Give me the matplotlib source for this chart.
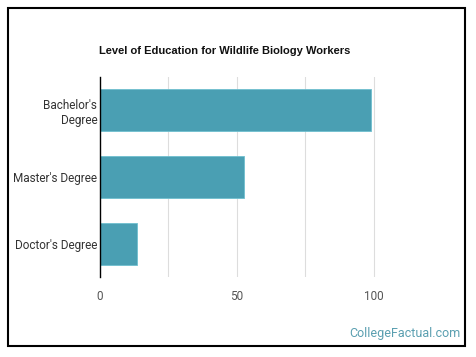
import matplotlib
matplotlib.use("Agg")
import matplotlib.pyplot as plt
from matplotlib.patches import Rectangle

categories = ["Bachelor's\nDegree", "Master's Degree", "Doctor's Degree"]
values = [99.1, 52.5, 13.6]
xticks = [0, 50, 100]
title = "Level of Education for Wildlife Biology Workers"

W, H = 476, 357
fig = plt.figure(figsize=(W / 100, H / 100), dpi=100)
fig.patch.set_facecolor("white")

# outer border
fig.patches.append(Rectangle((8 / W, 1 - 346 / H), (465 - 8) / W, (346 - 8) / H,
                             transform=fig.transFigure, fill=False,
                             edgecolor="black", linewidth=1.5))

ax = fig.add_axes([100 / W, 1 - 277 / H, (442 - 100) / W, (277 - 77) / H])
ypos = list(range(len(categories)))
ax.barh(ypos, values, height=0.63, color="#4a9fb3", edgecolor="#6fbfcf", linewidth=0.6, zorder=3)
ax.set_ylim(2.5, -0.5)
ax.set_xlim(0, 125)
ax.set_yticks(ypos)
ax.set_yticklabels(categories, fontfamily="Roboto", fontsize=8.5, color="#333333")
ax.set_xticks(xticks)
ax.set_xticklabels([str(t) for t in xticks], fontfamily="Roboto", fontsize=8.5, color="#555555")
for g in [25, 50, 75, 100]:
    ax.axvline(g, color="#dddddd", linewidth=0.8, zorder=1)
ax.tick_params(axis="y", length=0, pad=2)
ax.tick_params(axis="x", length=0, pad=9)
for s in ["top", "right", "bottom"]:
    ax.spines[s].set_visible(False)
ax.spines["left"].set_color("black")
ax.spines["left"].set_linewidth(1.0)
ax.spines["left"].set_zorder(4)

fig.text(225 / W, 1 - 51 / H, title, ha="center", va="center",
         fontfamily="Liberation Sans", fontweight="bold", fontsize=8, color="#111111")
fig.text(461 / W, 1 - 334 / H, "CollegeFactual.com", ha="right", va="center",
         fontfamily="Roboto", fontsize=9, color="#5a9fb0")

fig.savefig("out.png", dpi=100)
